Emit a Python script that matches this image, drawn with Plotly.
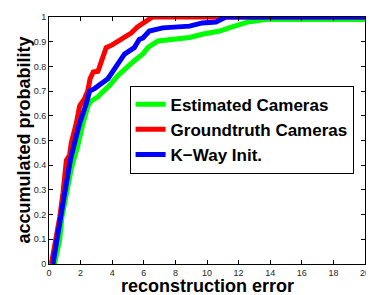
import plotly.graph_objects as go

# Estimated Cameras (green)
est_x = [0.35, 0.5, 0.68, 0.82, 1.1, 1.41, 1.6, 1.83, 2.15, 2.47, 2.67, 3.1, 3.4, 3.83, 4.36, 4.88,
         5.4, 5.94, 6.25, 6.9, 8.9, 9.7, 10.8, 11.4, 12.0, 12.6, 13.7, 20]
est_y = [0, 0.05, 0.1, 0.19, 0.29, 0.386, 0.43, 0.48, 0.57, 0.64, 0.66, 0.677, 0.697, 0.723, 0.763, 0.796,
         0.823, 0.85, 0.876, 0.903, 0.917, 0.93, 0.943, 0.956, 0.97, 0.98, 0.99, 0.99]

# Groundtruth Cameras (red)
gt_x = [0.15, 0.3, 0.47, 0.6, 0.68, 0.89, 1.0, 1.1, 1.3, 1.41, 1.73, 1.94, 2.25, 2.45, 2.6, 2.8, 3.1,
        3.35, 3.62, 4.0, 4.57, 5.2, 5.6, 5.94, 6.24, 6.55, 20]
gt_y = [0, 0.05, 0.1, 0.15, 0.19, 0.29, 0.38, 0.42, 0.44, 0.49, 0.57, 0.64, 0.67, 0.7, 0.75, 0.777, 0.78,
        0.82, 0.876, 0.887, 0.91, 0.935, 0.96, 0.975, 0.99, 1.0, 1.0]

# K-Way Init. (blue)
kw_x = [0.25, 0.4, 0.53, 0.74, 1.0, 1.2, 1.35, 1.62, 1.94, 2.36, 2.57, 2.88, 3.2, 3.73, 4.36, 4.78, 5.4,
        5.72, 5.94, 6.35, 7.2, 8.9, 9.7, 10.56, 11.2, 20]
kw_y = [0, 0.05, 0.1, 0.19, 0.29, 0.386, 0.42, 0.49, 0.57, 0.65, 0.70, 0.71, 0.723, 0.75, 0.81, 0.85, 0.876,
        0.91, 0.915, 0.943, 0.956, 0.963, 0.976, 0.98, 1.0, 1.0]

names = ["Estimated Cameras", "Groundtruth Cameras", "K\u2212Way Init."]
colors = ["#00ff00", "#ff0000", "#0000ff"]

x_ticks = list(range(0, 21, 2))
y_ticks = [i / 10 for i in range(11)]
y_tick_text = ["0"] + [f"{v:.1f}" for v in y_ticks[1:-1]] + ["1"]

FONT = "Liberation Sans, Arial, Helvetica, sans-serif"

fig = go.Figure()
for xs, ys, nm, c in zip([est_x, gt_x, kw_x], [est_y, gt_y, kw_y], names, colors):
    fig.add_trace(go.Scatter(x=xs, y=ys, mode="lines", name=nm,
                             line=dict(color=c, width=5)))

axis_common = dict(showgrid=False, zeroline=False, showline=True, linecolor="black", linewidth=1,
                   mirror="ticks", ticks="inside", ticklen=4, tickcolor="black", tickwidth=1,
                   tickfont=dict(family=FONT, size=9, color="#262626"))

# the page body has an 8px default margin, so the figure is sized to fit the window
fig.update_layout(
    width=366, height=287,
    margin=dict(l=41, r=7, t=4, b=31),
    paper_bgcolor="white", plot_bgcolor="white",
    xaxis=dict(range=[0, 20], tickvals=x_ticks, ticktext=[str(v) for v in x_ticks], **axis_common),
    yaxis=dict(range=[0, 1], tickvals=y_ticks, ticktext=y_tick_text, **axis_common),
    legend=dict(x=0.255, y=0.722, xanchor="left", yanchor="top",
                bgcolor="white", bordercolor="black", borderwidth=1,
                font=dict(family=FONT, size=17, color="black", weight="bold"),
                tracegroupgap=0),
    annotations=[
        dict(text="reconstruction error", xref="paper", yref="paper", x=0.5, y=-0.091,
             xanchor="center", yanchor="middle", showarrow=False,
             font=dict(family=FONT, size=18, color="black", weight="bold")),
        dict(text="accumulated probability", xref="paper", yref="paper", x=-0.082, y=0.5,
             xanchor="center", yanchor="middle", showarrow=False, textangle=-90,
             font=dict(family=FONT, size=18, color="black", weight="bold")),
    ],
    showlegend=True,
)

fig.write_html("out.html")
